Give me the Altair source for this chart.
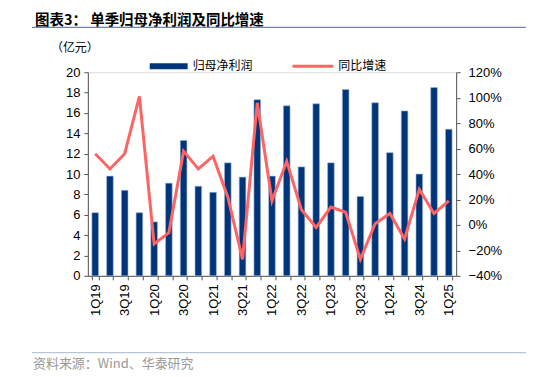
import altair as alt
import pandas as pd

quarters = ["1Q19","2Q19","3Q19","4Q19","1Q20","2Q20","3Q20","4Q20","1Q21","2Q21","3Q21","4Q21",
            "1Q22","2Q22","3Q22","4Q22","1Q23","2Q23","3Q23","4Q23","1Q24","2Q24","3Q24","4Q24","1Q25"]
profit = [6.2, 9.8, 8.4, 6.2, 5.3, 9.1, 13.3, 8.8, 8.2, 11.1, 9.7, 17.3,
          9.8, 16.7, 10.7, 16.9, 11.1, 18.3, 7.8, 17.0, 12.1, 16.2, 10.0, 18.5, 14.4]
growth = [56, 44, 56, 101, -15, -6, 58, 44, 54, 22, -27, 96,
          19, 50, 12, -2, 14, 10, -27, 1, 9, -11, 28, 9, 19]

df = pd.DataFrame({"q": quarters, "profit": profit, "growth": [g / 100 for g in growth]})

FONT = "Liberation Sans"
CJK = "Noto Sans CJK SC"
W, H = 369, 204

xenc = alt.X("q:N", sort=quarters, title=None,
             scale=alt.Scale(paddingInner=0.55, paddingOuter=0.275),
             axis=alt.Axis(labelAngle=-90, tickBand="extent", labelFont=FONT, labelFontSize=13,
                           labelColor="#000", domainColor="#555", tickColor="#555", tickSize=4,
                           labelPadding=4,
                           labelExpr="(slice(datum.label,0,1)=='1' || slice(datum.label,0,1)=='3') ? datum.label : ''"))

bars = alt.Chart(df).mark_bar(color="#003679", stroke="#9DB3D6", strokeWidth=0.6).encode(
    x=xenc,
    y=alt.Y("profit:Q", title=None, scale=alt.Scale(domain=[0, 20]),
            axis=alt.Axis(values=list(range(0, 21, 2)), grid=False, labelFont=FONT, labelFontSize=13,
                          labelColor="#000", domainColor="#555", tickColor="#555", tickSize=4,
                          labelPadding=4))
)

line = alt.Chart(df).mark_line(color="#FF6464", strokeWidth=3).encode(
    x=alt.X("q:N", sort=quarters),
    y=alt.Y("growth:Q", title=None, scale=alt.Scale(domain=[-0.4, 1.2]),
            axis=alt.Axis(orient="right", format=".0%", values=[-0.4, -0.2, 0, 0.2, 0.4, 0.6, 0.8, 1.0, 1.2],
                          grid=False, labelFont=FONT, labelFontSize=13, labelColor="#000",
                          domainColor="#555", tickColor="#555", tickSize=4, labelPadding=8))
)

def txt(s, x, y, size=12, color="#000", font=CJK, weight="normal", align="left", baseline="middle"):
    return alt.Chart(pd.DataFrame({"t": [s]})).mark_text(
        align=align, baseline=baseline, fontSize=size, font=font, color=color, fontWeight=weight
    ).encode(text="t:N", x=alt.value(x), y=alt.value(y))

def rule(x1, x2, y, color, width):
    return alt.Chart(pd.DataFrame({"a": [0]})).mark_rule(color=color, strokeWidth=width).encode(
        x=alt.value(x1), x2=alt.value(x2), y=alt.value(y))

legend_rect = alt.Chart(pd.DataFrame({"a": [0]})).mark_rect(color="#003679").encode(
    x=alt.value(62), x2=alt.value(100), y=alt.value(-9), y2=alt.value(-3))

extras = [
    txt("图表3：  单季归母净利润及同比增速", -53, -47, size=14.5, weight="bold", baseline="alphabetic"),
    rule(-56, 446, -45, "#6F85AE", 1.2),
    txt("（亿元）", -37, -24, size=12),
    legend_rect,
    txt("归母净利润", 105, -6, size=12),
    rule(205, 246, -6, "#FF6464", 3),
    txt("同比增速", 251, -6, size=12),
    rule(-56, 446, 281, "#A8B8D0", 1),
    txt("资料来源：Wind、华泰研究", -55, 292, size=13, color="#999999"),
]

chart = alt.layer(bars, line, *extras).resolve_scale(y="independent").properties(
    width=W, height=H,
    autosize=alt.AutoSizeParams(type="none"),
    padding={"left": 80, "top": 64, "right": 70, "bottom": 100},
).configure_view(stroke=None).configure(background="white")

chart.save("out.html", embed_options={"renderer": "svg", "actions": False})
